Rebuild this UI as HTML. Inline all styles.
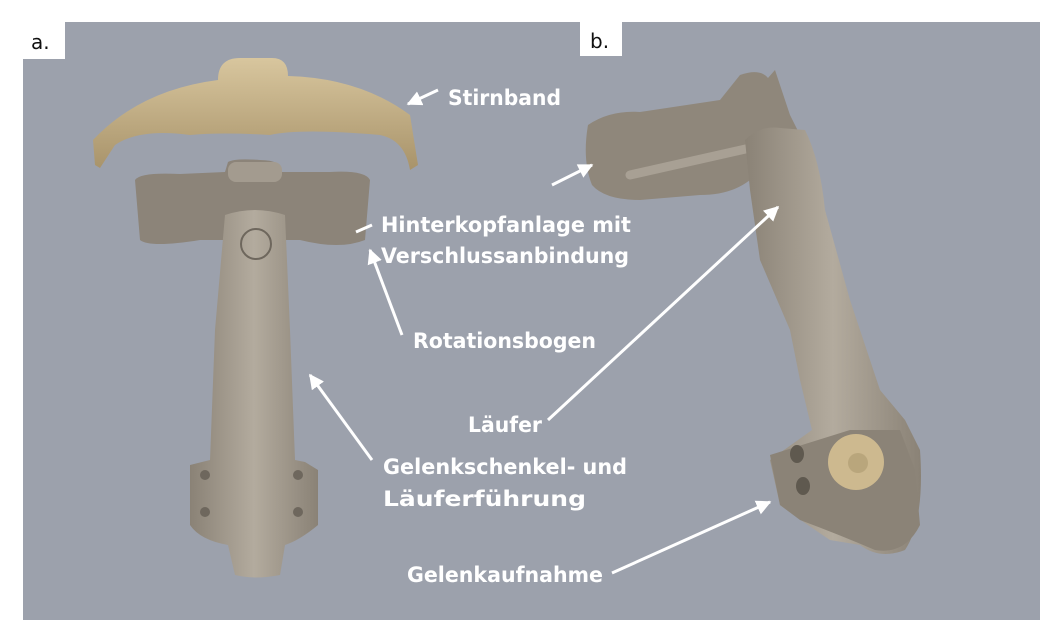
<!DOCTYPE html>
<html><head><meta charset="utf-8"><style>
html,body{margin:0;padding:0;background:#fff;}
svg{display:block;}
text{font-family:"DejaVu Sans","Liberation Sans",sans-serif;font-weight:bold;fill:#fff;font-size:21px;}
</style></head><body>
<svg width="1062" height="636" viewBox="0 0 1062 636">
<defs>
<marker id="ah" viewBox="0 0 10 10" refX="9" refY="5" markerWidth="5" markerHeight="5" orient="auto"><path d="M0,0L10,5L0,10z" fill="#fff"/></marker>
<linearGradient id="gold" x1="0" y1="0" x2="0" y2="1"><stop offset="0" stop-color="#d8c69e"/><stop offset="1" stop-color="#a8936a"/></linearGradient>
<linearGradient id="gr" x1="0" y1="0" x2="1" y2="0"><stop offset="0" stop-color="#8a8276"/><stop offset=".5" stop-color="#b3ab9e"/><stop offset="1" stop-color="#8a8276"/></linearGradient>
</defs>
<rect x="23" y="22" width="1017" height="598" fill="#9ca1ac"/>
<rect x="23" y="22" width="42" height="37" fill="#fff"/>
<text x="31" y="49" style="font-weight:normal;fill:#111;font-size:20px">a.</text>
<rect x="580" y="22" width="42" height="34" fill="#fff"/>
<text x="590" y="48" style="font-weight:normal;fill:#111;font-size:20px">b.</text>

<path d="M218,80 Q218,58 240,58 L272,58 Q288,58 288,76 Q360,78 410,115 L418,165 L410,170 Q405,140 380,135 Q300,128 270,135 Q220,132 190,135 Q140,128 115,145 L100,168 L95,165 L93,140 Q140,90 218,80Z" fill="url(#gold)"/>
<path d="M135,180 Q140,172 180,174 L225,172 L228,162 Q235,158 260,160 Q282,160 282,172 L330,172 Q365,170 370,180 L365,240 Q340,250 300,240 L200,240 Q150,248 140,240Z" fill="#8c8479"/>
<rect x="228" y="162" width="54" height="20" rx="8" fill="#a39b8f"/>
<path d="M225,215 Q255,205 285,215 L290,330 L295,460 L305,462 L318,470 L318,525 Q300,540 285,545 L280,575 Q255,580 235,575 L228,545 Q200,540 190,525 L190,465 L210,460 L215,330Z" fill="url(#gr)"/>
<circle cx="256" cy="244" r="15" fill="none" stroke="#6e675d" stroke-width="2"/>
<circle cx="205" cy="475" r="5" fill="#6e675d"/><circle cx="298" cy="475" r="5" fill="#6e675d"/>
<circle cx="205" cy="512" r="5" fill="#6e675d"/><circle cx="298" cy="512" r="5" fill="#6e675d"/>

<path d="M588,125 Q610,110 640,112 L720,100 L740,75 Q760,68 768,78 L775,70 L790,115 L800,135 L760,135 L760,170 Q740,195 700,195 L640,200 Q605,200 592,185 Q582,160 588,125Z" fill="#8f877b"/>
<path d="M630,175 L750,148" stroke="#a8a094" stroke-width="9" stroke-linecap="round"/>
<path d="M745,140 Q760,125 780,128 L805,130 Q820,160 825,210 L850,300 L880,390 L905,420 L920,450 Q925,520 905,550 Q880,560 860,545 L830,540 Q800,520 780,505 L770,460 L812,430 L800,380 L790,330 L760,260 L750,190Z" fill="url(#gr)"/>
<path d="M770,455 L850,430 L900,430 L915,470 L920,525 Q905,555 875,550 Q840,535 800,520 L780,505Z" fill="#8b8377"/>
<circle cx="856" cy="462" r="28" fill="#cdb98f"/>
<circle cx="858" cy="463" r="10" fill="#b9a67c"/>
<ellipse cx="797" cy="454" rx="7" ry="9" fill="#5f594f"/><ellipse cx="803" cy="486" rx="7" ry="9" fill="#5f594f"/>

<text x="448" y="105" textLength="113" lengthAdjust="spacingAndGlyphs">Stirnband</text>
<line x1="438" y1="90" x2="408" y2="104" stroke="#fff" stroke-width="3" marker-end="url(#ah)"/>
<text x="381" y="232" textLength="250" lengthAdjust="spacingAndGlyphs">Hinterkopfanlage mit</text>
<text x="381" y="263" textLength="248" lengthAdjust="spacingAndGlyphs">Verschlussanbindung</text>
<line x1="372" y1="225" x2="356" y2="232" stroke="#fff" stroke-width="3"/>
<line x1="552" y1="185" x2="592" y2="165" stroke="#fff" stroke-width="3" marker-end="url(#ah)"/>
<text x="413" y="348" textLength="183" lengthAdjust="spacingAndGlyphs">Rotationsbogen</text>
<line x1="402" y1="335" x2="370" y2="250" stroke="#fff" stroke-width="3" marker-end="url(#ah)"/>
<text x="383" y="474" textLength="244" lengthAdjust="spacingAndGlyphs">Gelenkschenkel- und</text>
<text x="383" y="506" textLength="203" lengthAdjust="spacingAndGlyphs">Läuferführung</text>
<line x1="372" y1="460" x2="310" y2="375" stroke="#fff" stroke-width="3" marker-end="url(#ah)"/>
<text x="468" y="432" textLength="74" lengthAdjust="spacingAndGlyphs">Läufer</text>
<line x1="548" y1="420" x2="778" y2="207" stroke="#fff" stroke-width="3" marker-end="url(#ah)"/>
<text x="407" y="582" textLength="196" lengthAdjust="spacingAndGlyphs">Gelenkaufnahme</text>
<line x1="612" y1="573" x2="770" y2="502" stroke="#fff" stroke-width="3" marker-end="url(#ah)"/>
</svg>
</body></html>
